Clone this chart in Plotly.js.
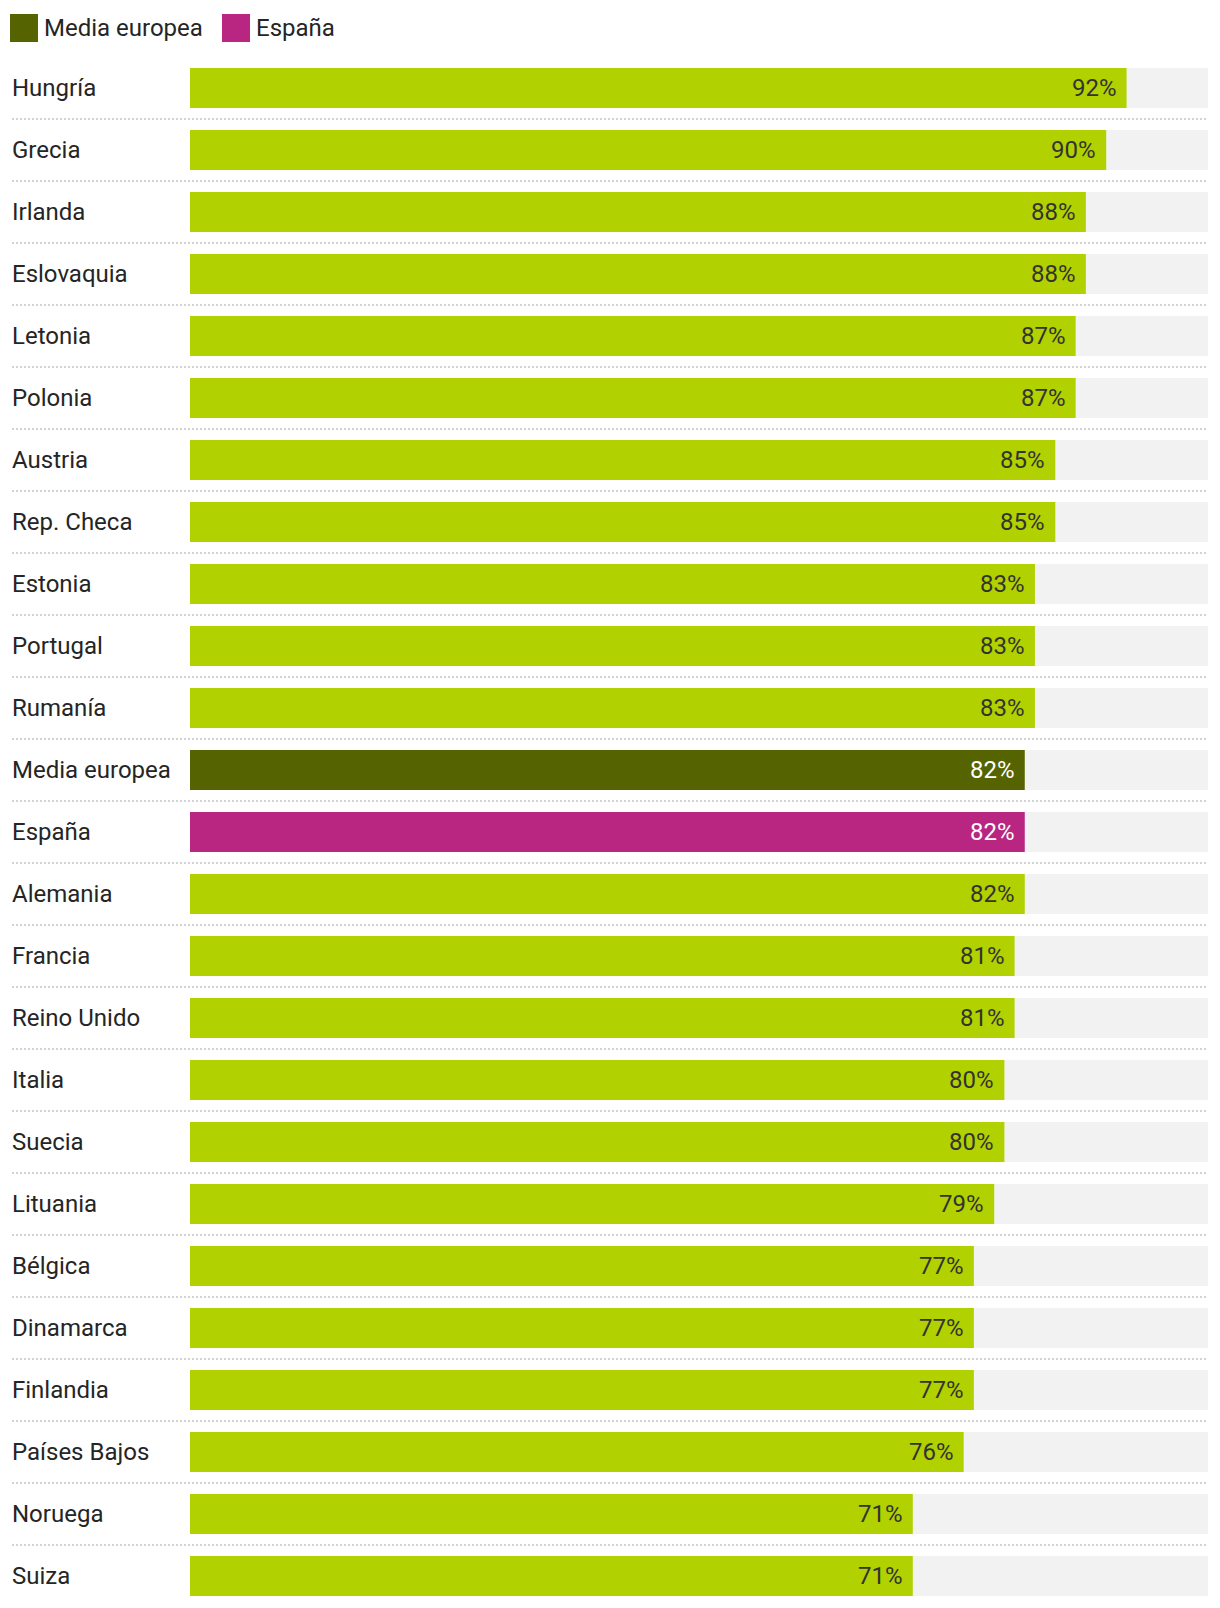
<!DOCTYPE html>
<html>
<head>
<meta charset="utf-8">
<script src="https://cdn.plot.ly/plotly-3.0.1.min.js"></script>
<style>
  html, body { margin: 0; padding: 0; background: #ffffff; }
  #chart { width: 1220px; height: 1608px; }
</style>
</head>
<body>
<div id="chart"></div>
<script>
// ---- Data ----
const countries = ["Hungría", "Grecia", "Irlanda", "Eslovaquia", "Letonia", "Polonia", "Austria",
  "Rep. Checa", "Estonia", "Portugal", "Rumanía", "Media europea", "España", "Alemania",
  "Francia", "Reino Unido", "Italia", "Suecia", "Lituania", "Bélgica", "Dinamarca",
  "Finlandia", "Países Bajos", "Noruega", "Suiza"];
const values = [92, 90, 88, 88, 87, 87, 85, 85, 83, 83, 83, 82, 82, 82, 81, 81, 80, 80, 79, 77, 77, 77, 76, 71, 71];
const maxValue = 100;
const legendNames = ["Media europea", "España"];

// ---- Styling ----
const W = 1220, H = 1608;
const M = { l: 190, r: 12, t: 57, b: 1 };
const plotW = W - M.l - M.r, plotH = H - M.t - M.b;
const px2x = px => (px - M.l) / plotW;
const px2y = py => (H - M.b - py) / plotH;

const colDefault = "#b1d100";
const colHighlight = { "Media europea": "#556400", "España": "#b82681" };
const colTrack = "#f2f2f2";
const font = "Roboto, 'Noto Sans', sans-serif";
const fs = 24;

const barColors = countries.map(c => colHighlight[c] || colDefault);
const textColors = countries.map(c => colHighlight[c] ? "#ffffff" : "#333333");

const traces = [
  { type: "bar", orientation: "h", y: countries, x: countries.map(() => maxValue),
    marker: { color: colTrack }, hoverinfo: "skip", showlegend: false },
  { type: "bar", orientation: "h", y: countries, x: values,
    marker: { color: barColors }, hoverinfo: "y+x", showlegend: false }
];

const n = countries.length;
const annotations = [];
const shapes = [];

countries.forEach((c, i) => {
  annotations.push({ xref: "paper", yref: "y", x: px2x(10), y: c, xanchor: "left", yanchor: "middle",
    text: c, showarrow: false, font: { family: font, size: fs, weight: 400, color: "#252525" } });
  annotations.push({ xref: "x", yref: "y", x: values[i], y: c, xanchor: "right", yanchor: "middle",
    xshift: -8, text: values[i] + "%", showarrow: false, font: { family: font, size: fs, weight: 400, color: textColors[i] } });
  if (i < n - 1) {
    const yp = (n - 1 - (i + 0.5) + 0.5) / n;
    shapes.push({ type: "line", xref: "paper", yref: "paper", x0: px2x(12), x1: 1, y0: yp, y1: yp,
      line: { color: "#d2d2d2", width: 2, dash: "2px,2px" } });
  }
});

// legend
let lx = 10;
legendNames.forEach((name, k) => {
  shapes.push({ type: "rect", xref: "paper", yref: "paper", x0: px2x(lx), x1: px2x(lx + 28),
    y0: px2y(42), y1: px2y(14), line: { width: 0 }, fillcolor: colHighlight[name] });
  annotations.push({ xref: "paper", yref: "paper", x: px2x(lx + 32), y: px2y(28), xanchor: "left", yanchor: "middle",
    text: name, showarrow: false, font: { family: font, size: fs, weight: 400, color: "#252525" } });
  lx = 222;
});

const layout = {
  width: W, height: H,
  margin: M,
  paper_bgcolor: "#ffffff", plot_bgcolor: "#ffffff",
  barmode: "overlay",
  bargap: 1 - 40 / 62,
  showlegend: false,
  xaxis: { range: [0, maxValue], visible: false, fixedrange: true },
  yaxis: { type: "category", categoryarray: countries, range: [n - 0.5, -0.5],
    showticklabels: false, showgrid: false, zeroline: false, ticks: "", fixedrange: true },
  annotations: annotations,
  shapes: shapes,
  font: { family: font }
};

Plotly.newPlot("chart", traces, layout, { displayModeBar: false, staticPlot: true });
</script>
</body>
</html>
